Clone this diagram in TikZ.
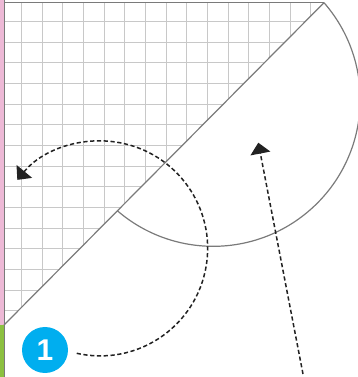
\documentclass[tikz,border=0pt]{standalone}
\usepackage{fontspec}
\newfontfamily\labelfont{Liberation Sans}
\usetikzlibrary{arrows.meta}
\definecolor{gridc}{HTML}{C8C8C8}
\definecolor{edgec}{HTML}{7A7A7A}
\definecolor{pinkc}{HTML}{EDB9D6}
\definecolor{greenc}{HTML}{8CC040}
\definecolor{bluec}{HTML}{00AEEF}
\definecolor{dashc}{HTML}{222222}
\tikzset{
  gridline/.style={draw=gridc, line width=1pt},
  edgeline/.style={draw=edgec, line width=1.2pt},
  dashedarrow/.style={draw=dashc, line width=1.5pt, dash pattern=on 4.2pt off 2.6pt,
    -{Triangle[width=20pt,length=11pt]}},
  badge/.style={circle, fill=bluec, minimum size=46pt, inner sep=0pt,
    text=white, font=\labelfont\bfseries\fontsize{30}{30}\selectfont}
}
\begin{document}
\begin{tikzpicture}[x=1pt,y=1pt]
\useasboundingbox (0,0) rectangle (358,377);
\clip (0,0) rectangle (358,377);
% side strips
\fill[pinkc] (0,52) rectangle (4,377);
\fill[greenc] (0,0) rectangle (4,52);
% grid clipped to triangle
\coordinate (tl) at (4,374.3);
\coordinate (tr) at (324,374.3);
\coordinate (bl) at (4,52);
\begin{scope}
  \clip (tl) -- (tr) -- (bl) -- cycle;
  \foreach \gi in {0,1,...,16} {
    \pgfmathsetmacro{\gx}{1.06+20.64*\gi}
    \pgfmathsetmacro{\gy}{375.94-20.64*\gi}
    \draw[gridline] (\gx,0) -- (\gx,377);
    \draw[gridline] (0,\gy) -- (358,\gy);
  }
\end{scope}
% borders
\draw[edgeline] (4.3,0) -- (4.3,377);
\draw[edgeline] (tl) -- (tr);
\draw[edgeline] (tr) -- (bl);
% semicircle
\draw[edgeline] (tr) arc[start angle=41.1, end angle=-130.7, radius=147];
% badge
\node[badge] (one) at (45,27) {1};
% dashed arrows
\coordinate (arcstart) at (76.7,23.7);
\draw[dashedarrow] (arcstart) arc[start angle=-102.6, end angle=140.4, radius=107.5];
\coordinate (linestart) at (303,3);
\coordinate (linetip) at (258.3,234.3);
\draw[dashedarrow] (linestart) -- (linetip);
\end{tikzpicture}
\end{document}
